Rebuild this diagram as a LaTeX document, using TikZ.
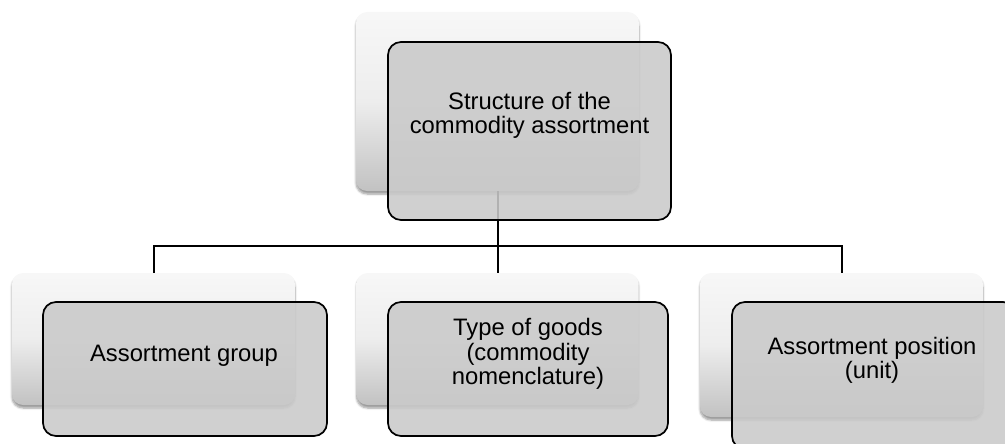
\documentclass[tikz,border=0pt]{standalone}
\usepackage{fontspec}
\setmainfont{Liberation Sans}
\usetikzlibrary{shadows.blur}
\definecolor{frontfill}{HTML}{CACACA}
\tikzset{
  backbox/.style={rectangle, rounded corners=11pt, draw=none, inner sep=0pt,
    top color=white!97!black, bottom color=white!76!black, middle color=white!93!black,
    blur shadow={shadow xshift=0pt, shadow yshift=-3pt, shadow blur steps=6, shadow opacity=40}},
  frontbox/.style={rectangle, rounded corners=13pt, draw=black, line width=1.7pt,
    fill=frontfill, fill opacity=0.88, inner sep=0pt},
  boxtext/.style={font=\fontsize{23.8pt}{24.3pt}\selectfont, align=center, inner sep=0pt, text=black},
  conn/.style={draw=black, line width=2pt}
}
\begin{document}
\begin{tikzpicture}[x=1pt,y=-1pt]
\useasboundingbox (0,0) rectangle (1005,444);
\clip (0,0) rectangle (1005,444);
% back boxes
\node[backbox, minimum width=283pt, minimum height=179pt] (topback) at (497.5,101.5) {};
\node[backbox, minimum width=283pt, minimum height=132pt] (leftback) at (153.5,339) {};
\node[backbox, minimum width=282pt, minimum height=132pt] (midback) at (497.5,339) {};
\node[backbox, minimum width=283pt, minimum height=144pt] (rightback) at (841.5,345) {};
% connectors
\coordinate (busy) at (0,246);
\coordinate (bus) at (topback.south |- busy);
\draw[conn] (topback.south) -- (bus);
\draw[conn] (leftback.north) |- (bus) -| (rightback.north);
\draw[conn] (bus) -- (midback.north);
% front boxes
\node[frontbox, minimum width=283pt, minimum height=178pt] (topfront) at (529.5,131) {};
\node[frontbox, minimum width=284pt, minimum height=134pt] (leftfront) at (185,369) {};
\node[frontbox, minimum width=280pt, minimum height=134pt] (midfront) at (528,369) {};
\node[frontbox, minimum width=284pt, minimum height=147pt] (rightfront) at (874,375.5) {};
% texts
\node[boxtext] (toptext) at (529.5,115) {Structure of the\\commodity assortment};
\node[boxtext] (lefttext) at (184,356) {Assortment group};
\node[boxtext] (midtext) at (528,354) {Type of goods\\(commodity\\nomenclature)};
\node[boxtext] (righttext) at (872,360.5) {Assortment position\\(unit)};
\end{tikzpicture}
\end{document}
